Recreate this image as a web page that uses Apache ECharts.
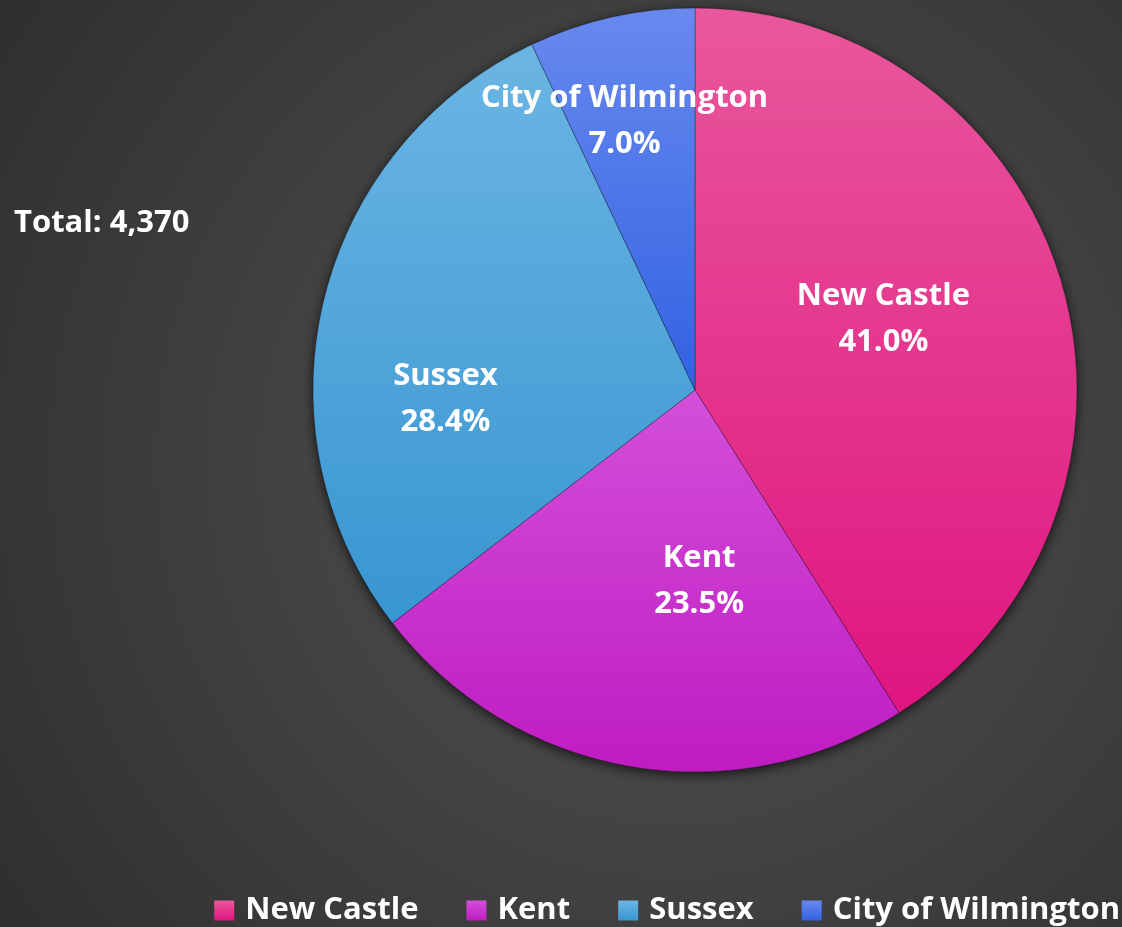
<!DOCTYPE html>
<html>
<head>
<meta charset="utf-8">
<script src="https://cdn.jsdelivr.net/npm/echarts@6/dist/echarts.min.js"></script>
<style>
  html, body { margin: 0; padding: 0; }
  #chart { width: 1122px; height: 927px; }
</style>
</head>
<body>
<div id="chart"></div>
<script>
// data
const regions = ['New Castle', 'Kent', 'Sussex', 'City of Wilmington'];
const counts = [1793, 1028, 1242, 307];
const totalLabel = 'Total: 4,370';

// slice gradients, top -> bottom
const sliceColors = [
    ['#E9579C', '#DF1580'],
    ['#D34FD9', '#BF1CC2'],
    ['#6BB5E3', '#3896D1'],
    ['#6889EE', '#3262E2']
];

// nudges so labels sit like the original (best fit)
const labelShift = {
    'New Castle': [2, -17],
    'Kent': [38, 0],
    'Sussex': [-61, 55],
    'City of Wilmington': [-28, -80]
};

const FONT = '"Open Sans", Lato, sans-serif';

function initPie() {
    const chartDom = document.getElementById('chart');
    const myChart = echarts.init(chartDom);

    const total = counts.reduce((a, b) => a + b, 0);

    const option = {
        backgroundColor: new echarts.graphic.RadialGradient(0.6, 0.5, 0.95, [
            { offset: 0, color: '#545454' },
            { offset: 1, color: '#2c2c2c' }
        ]),
        legend: {
            data: regions,
            bottom: -4,
            right: -3,
            itemWidth: 20,
            itemHeight: 20,
            itemGap: 48,
            icon: 'rect',
            itemStyle: { borderColor: 'transparent', borderWidth: 0 },
            textStyle: {
                color: '#fff',
                fontSize: 31,
                fontWeight: 'bold',
                fontFamily: FONT,
                padding: [0, 0, 0, 6]
            }
        },
        graphic: [{
            type: 'text',
            left: 14,
            top: 208,
            style: {
                text: totalLabel,
                fill: '#fff',
                fontSize: 31,
                fontWeight: 'bold',
                fontFamily: FONT
            }
        }],
        series: [
            {
                // drop shadow under the whole pie
                type: 'pie',
                silent: true,
                center: [695, 390],
                radius: 382,
                z: 1,
                label: { show: false },
                labelLine: { show: false },
                data: [{ value: total, name: '' }],
                itemStyle: {
                    color: '#3a3a3a',
                    shadowBlur: 12,
                    shadowOffsetY: 3,
                    shadowColor: 'rgba(0,0,0,0.7)'
                },
                legendHoverLink: false
            },
            {
                type: 'pie',
                center: [695, 390],
                radius: 382,
                startAngle: 90,
                clockwise: true,
                z: 2,
                avoidLabelOverlap: false,
                itemStyle: {
                    borderColor: 'rgba(0,0,0,0.25)',
                    borderWidth: 0.6
                },
                label: {
                    show: true,
                    position: 'inside',
                    color: '#fff',
                    fontSize: 31,
                    fontWeight: 'bold',
                    fontFamily: FONT,
                    lineHeight: 46,
                    formatter: p => p.name + '\n' + p.percent.toFixed(1) + '%'
                },
                labelLine: { show: false },
                data: regions.map((name, i) => ({
                    name: name,
                    value: counts[i],
                    itemStyle: {
                        color: new echarts.graphic.LinearGradient(0, 0, 0, 1, [
                            { offset: 0, color: sliceColors[i][0] },
                            { offset: 1, color: sliceColors[i][1] }
                        ])
                    },
                    label: { offset: labelShift[name] }
                }))
            }
        ]
    };

    myChart.setOption(option);

    window.addEventListener('resize', () => {
        myChart.resize();
    });
}

document.addEventListener('DOMContentLoaded', initPie);
</script>
</body>
</html>
